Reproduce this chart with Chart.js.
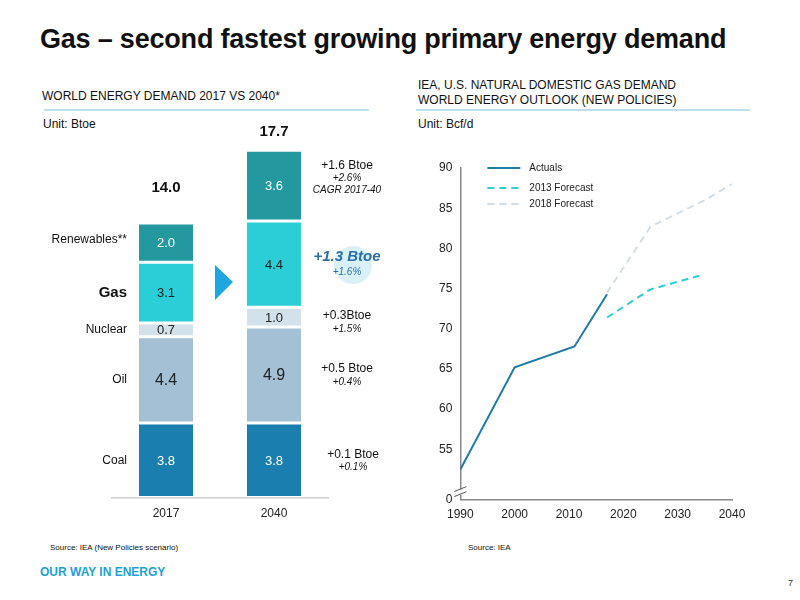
<!DOCTYPE html>
<html><head><meta charset="utf-8">
<script src="https://cdn.jsdelivr.net/npm/chart.js@4"></script>
<style>
body{margin:0;width:800px;height:600px;position:relative;background:#fff;font-family:"Liberation Sans",Arial,sans-serif;overflow:hidden}
.t{position:absolute;white-space:nowrap;color:#111}
canvas{position:absolute}
</style></head><body>
<div class="t" style="left:40px;top:24px;font-size:27px;font-weight:bold;letter-spacing:-0.2px">Gas – second fastest growing primary energy demand</div>
<div class="t" style="left:42px;top:89px;font-size:12px">WORLD ENERGY DEMAND 2017 VS 2040*</div>
<div style="position:absolute;left:44px;top:109px;width:325px;height:2px;background:#bfe0ea"></div>
<div class="t" style="left:43px;top:117px;font-size:12px">Unit: Btoe</div>
<div class="t" style="left:418px;top:78px;font-size:12px;line-height:15px">IEA, U.S. NATURAL DOMESTIC GAS DEMAND<br>WORLD ENERGY OUTLOOK (NEW POLICIES)</div>
<div style="position:absolute;left:416px;top:109px;width:334px;height:2px;background:#bfe0ea"></div>
<div class="t" style="left:418px;top:117px;font-size:12px">Unit: Bcf/d</div>
<div class="t" style="left:50px;top:543px;font-size:8px">Source: IEA (New Policies scenario)</div>
<div class="t" style="left:468px;top:543px;font-size:8px">Source: IEA</div>
<div class="t" style="left:40px;top:565px;font-size:12px;font-weight:bold;color:#1f9fd6">OUR WAY IN ENERGY</div>
<div class="t" style="left:788px;top:578px;font-size:9px;color:#333">7</div>
<canvas id="left" style="left:0;top:0"></canvas>
<canvas id="right" style="left:410px;top:140px"></canvas>
<script>
const years = ['2017', '2040'];
const sources = ['Coal', 'Oil', 'Nuclear', 'Gas', 'Renewables**'];
const demand2017 = [3.8, 4.4, 0.7, 3.1, 2.0];
const demand2040 = [3.8, 4.9, 1.0, 4.4, 3.6];
const totals = ['14.0', '17.7'];
const growthAbs = ['+0.1 Btoe', '+0.5 Btoe', '+0.3Btoe', '+1.3 Btoe', '+1.6 Btoe'];
const growthPct = ['+0.1%', '+0.4%', '+1.5%', '+1.6%', '+2.6%'];
const segColors = ['#1a7fae', '#a3c0d4', '#d3e1ea', '#2bcdd6', '#23999f'];
const segText = ['#fff', '#222', '#222', '#222', '#fff'];

const actualYears = [1990, 2000, 2011, 2017];
const actualVals = [52.5, 65.2, 67.8, 74.3];
const f2013Years = [2017, 2025, 2034];
const f2013Vals = [71.4, 74.9, 76.6];
const f2018Years = [2017, 2025, 2035, 2040];
const f2018Vals = [74.5, 82.7, 86.0, 88.0];
const yTicks = [55, 60, 65, 70, 75, 80, 85, 90];

const font = '"Liberation Sans", Arial, sans-serif';
Chart.defaults.font.family = font;
Chart.defaults.animation = false;

const leftLabels = {
  id: 'leftLabels',
  afterDatasetsDraw(chart) {
    const c = chart.ctx, y = chart.scales.y, x = chart.scales.x;
    const x0 = x.getPixelForValue(0), x1 = x.getPixelForValue(1);
    c.save();
    c.textBaseline = 'middle';
    let base = [0, 0];
    sources.forEach((s, i) => {
      const vals = [demand2017[i], demand2040[i]];
      const mids = vals.map((v, j) => y.getPixelForValue(base[j] + v / 2));
      c.fillStyle = segText[i]; c.textAlign = 'center';
      c.font = (i === 1 ? '16px ' : '13px ') + font;
      c.fillText(vals[0].toFixed(1), x0, mids[0] + 1);
      c.fillText(vals[1].toFixed(1), x1, mids[1] + 1);
      c.fillStyle = '#111'; c.textAlign = 'right';
      c.font = (i === 3 ? 'bold 15px ' : '12px ') + font;
      c.fillText(s, 127, mids[0] + (i === 4 ? -3 : 0));
      const gx = 347, off = i === 4 ? -13 : (i === 2 ? 6 : 1);
      if (i === 3) {
        c.fillStyle = 'rgba(180,225,240,0.5)';
        c.beginPath(); c.arc(353, mids[1] + 1, 19, 0, Math.PI * 2); c.fill();
        c.fillStyle = '#2a6fa8'; c.textAlign = 'center';
        c.font = 'bold italic 15px ' + font;
        c.fillText(growthAbs[i], gx, mids[1] - 7);
        c.font = 'italic 10px ' + font;
        c.fillText(growthPct[i], gx, mids[1] + 8);
      } else {
        c.fillStyle = '#111'; c.textAlign = 'center';
        c.font = '12px ' + font;
        c.fillText(growthAbs[i], gx + (i === 0 ? 6 : 0), mids[1] + off - 7);
        c.font = 'italic 10px ' + font;
        c.fillText(growthPct[i], gx + (i === 0 ? 6 : 0), mids[1] + off + 6);
        if (i === 4) c.fillText('CAGR 2017-40', gx, mids[1] + off + 18);
      }
      base = [base[0] + vals[0], base[1] + vals[1]];
    });
    c.fillStyle = '#111'; c.textAlign = 'center'; c.font = 'bold 15px ' + font;
    c.fillText(totals[0], x0, y.getPixelForValue(base[0]) - 35);
    c.fillText(totals[1], x1, y.getPixelForValue(base[1]) - 18);
    c.fillStyle = '#1fa6e0';
    c.beginPath(); c.moveTo(215, 265); c.lineTo(233, 282); c.lineTo(215, 300); c.closePath(); c.fill();
    c.restore();
  }
};

const lc = document.getElementById('left');
lc.width = 410; lc.height = 540;
new Chart(lc, {
  type: 'bar',
  data: {
    labels: years,
    datasets: sources.map((s, i) => ({
      label: s, data: [demand2017[i], demand2040[i]],
      backgroundColor: segColors[i], borderColor: '#fff',
      borderWidth: { top: 1.5, bottom: 1.5, left: 0, right: 0 }, borderSkipped: false,
      categoryPercentage: 1, barPercentage: 0.5
    }))
  },
  options: {
    responsive: false,
    layout: { padding: { left: 112, right: 82, top: 113, bottom: 10 } },
    plugins: { legend: { display: false }, tooltip: { enabled: false } },
    scales: {
      x: { stacked: true, grid: { display: false, drawTicks: false }, border: { color: '#ccc', width: 1.5 },
           ticks: { color: '#222', font: { size: 12 }, padding: 9 } },
      y: { stacked: true, display: false, min: 0, max: 19.6 }
    }
  },
  plugins: [leftLabels]
});

const rightExtras = {
  id: 'rightExtras',
  afterDraw(chart) {
    const c = chart.ctx, a = chart.chartArea;
    c.save();
    const items = [['Actuals', '#1f7ca8', [], 28], ['2013 Forecast', '#2bcdd6', [7, 5], 48], ['2018 Forecast', '#d3dde4', [7, 5], 64]];
    items.forEach(it => {
      const ly = it[3];
      c.strokeStyle = it[1]; c.lineWidth = 2; c.setLineDash(it[2]);
      c.beginPath(); c.moveTo(a.left + 27, ly); c.lineTo(a.left + 60, ly); c.stroke();
      c.setLineDash([]);
      c.fillStyle = '#222'; c.font = '10px ' + font; c.textBaseline = 'middle'; c.textAlign = 'left';
      c.fillText(it[0], a.left + 69, ly);
    });
    c.fillStyle = '#fff'; c.fillRect(a.left - 6, a.bottom - 10, 12, 5);
    c.strokeStyle = '#555'; c.lineWidth = 1;
    [a.bottom - 11, a.bottom - 6].forEach(by => {
      c.beginPath(); c.moveTo(a.left - 6, by + 3); c.lineTo(a.left + 6, by - 2); c.stroke();
    });
    c.restore();
  }
};

const toXY = (xs, ys) => xs.map((x, i) => ({ x, y: ys[i] }));
const rc = document.getElementById('right');
rc.width = 390; rc.height = 400;
new Chart(rc, {
  type: 'line',
  data: {
    datasets: [
      { label: 'Actuals', data: toXY(actualYears, actualVals), borderColor: '#1f7ca8', borderWidth: 2, pointRadius: 0 },
      { label: '2013 Forecast', data: toXY(f2013Years, f2013Vals), borderColor: '#2bcdd6', borderWidth: 2, borderDash: [7, 5], pointRadius: 0 },
      { label: '2018 Forecast', data: toXY(f2018Years, f2018Vals), borderColor: '#d3dde4', borderWidth: 2, borderDash: [7, 5], pointRadius: 0 }
    ]
  },
  options: {
    responsive: false,
    layout: { padding: { left: 26, right: 68, top: 28, bottom: 15 } },
    plugins: { legend: { display: false }, tooltip: { enabled: false } },
    scales: {
      x: { type: 'linear', min: 1990, max: 2040,
           afterBuildTicks: s => { s.ticks = [1990, 2000, 2010, 2020, 2030, 2040].map(v => ({ value: v })); },
           grid: { display: false, drawOnChartArea: false, drawTicks: true, tickLength: 5, color: '#888' },
           border: { color: '#888', width: 1.5 },
           ticks: { color: '#222', font: { size: 12 }, callback: v => String(v), maxRotation: 0 } },
      y: { min: 48.75, max: 90,
           afterBuildTicks: s => { s.ticks = [48.75].concat(yTicks).map(v => ({ value: v })); },
           grid: { display: false, drawOnChartArea: false, drawTicks: true, tickLength: 5, color: '#888' },
           border: { color: '#888', width: 1.5 },
           ticks: { color: '#222', font: { size: 12 }, callback: v => v === 48.75 ? '0' : String(v) } }
    }
  },
  plugins: [rightExtras]
});
</script>
</body></html>
